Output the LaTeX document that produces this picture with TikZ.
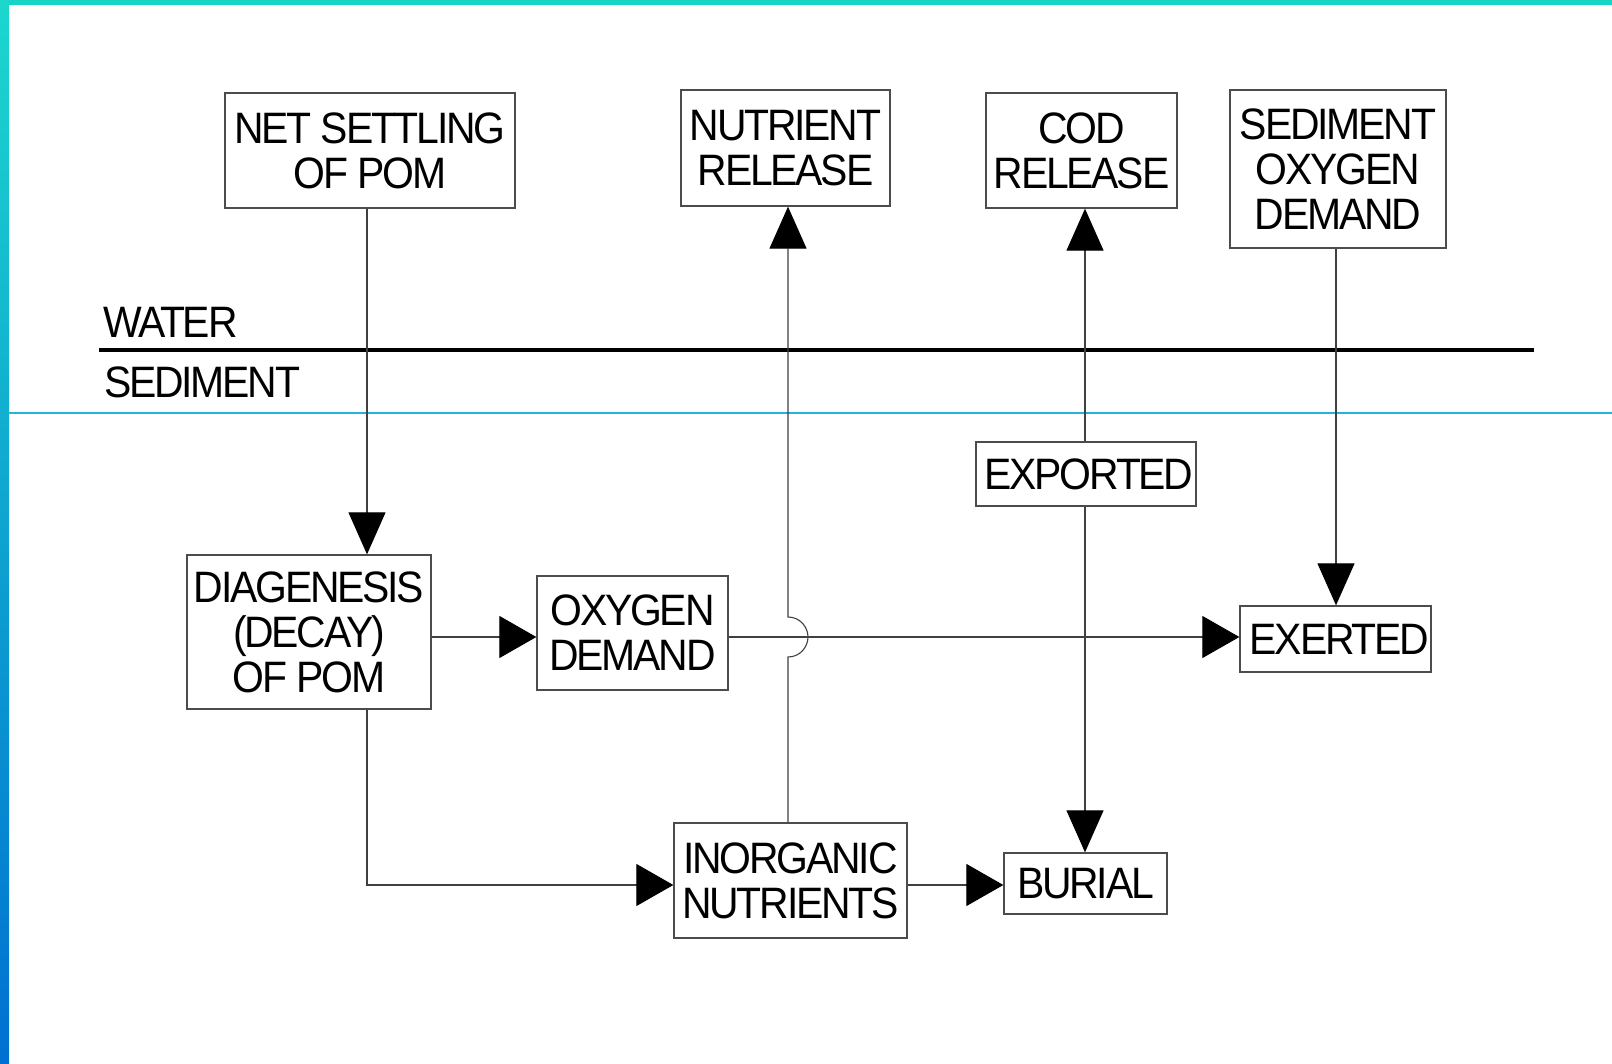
\documentclass[tikz,border=0pt]{standalone}
\usepackage{fontspec}
\setmainfont{Liberation Sans}[FakeStretch=0.93,LetterSpace=-5]
\usetikzlibrary{arrows.meta}
\definecolor{topbar}{HTML}{16D4C6}
\definecolor{barTop}{HTML}{1CD7CE}
\definecolor{barBot}{HTML}{0070D2}
\definecolor{cyanline}{HTML}{22B4DA}
\begin{document}
\begin{tikzpicture}[x=1pt,y=-1pt,
  box/.style={draw=black!70,line width=1.3pt,inner sep=0pt,align=center,
    font=\fontsize{44}{45}\selectfont},
  lbl/.style={inner sep=0pt,anchor=base west,font=\fontsize{44}{45}\selectfont},
  conn/.style={draw=black!75,line width=1.1pt},
  varr/.style={-{Triangle[length=42pt,width=37pt,color=black]}},
  harr/.style={-{Triangle[length=37pt,width=42pt,color=black]}}]
\useasboundingbox (0,0) rectangle (1612,1064);
\fill[white] (0,0) rectangle (1612,1064);
% frame
\fill[topbar] (0,0) rectangle (1612,5);
\shade[top color=barTop,bottom color=barBot] (0,0) rectangle (9,1064);
\draw[cyanline,line width=1.5pt] (9,413) -- (1612,413);
% water / sediment
\coordinate (wl) at (99,350);
\coordinate (wr) at (1534,350);
\draw[line width=4.5pt] (wl) -- (wr);
\node[lbl] (water) at (103,338) {WATER};
\node[lbl] (sediment) at (104,398) {SEDIMENT};
% boxes
\node[box,minimum width=290pt,minimum height=115pt] (net) at (370,150.5) {NET SETTLING\\OF POM};
\node[box,minimum width=209pt,minimum height=116pt] (nr) at (785.5,148) {NUTRIENT\\RELEASE};
\node[box,minimum width=191pt,minimum height=115pt] (cod) at (1081.5,150.5) {COD\\RELEASE};
\node[box,minimum width=216pt,minimum height=158pt] (sod) at (1338,169) {SEDIMENT\\OXYGEN\\DEMAND};
\node[box,minimum width=220pt,minimum height=64pt] (exp) at (1086,474) {\hspace*{6pt}EXPORTED};
\node[box,minimum width=244pt,minimum height=154pt] (dia) at (309,632) {DIAGENESIS\\(DECAY)\\OF POM};
\node[box,minimum width=191pt,minimum height=114pt] (ox) at (632.5,633) {OXYGEN\\DEMAND};
\node[box,minimum width=191pt,minimum height=66pt] (ex) at (1335.5,639) {\hspace*{8pt}EXERTED};
\node[box,minimum width=233pt,minimum height=115pt] (inorg) at (790.5,880.5) {INORGANIC\\NUTRIENTS};
\node[box,minimum width=163pt,minimum height=61pt] (burial) at (1085.5,883.5) {BURIAL};
% guide coordinates
\coordinate (xa) at (367,0);
\coordinate (xb) at (788,0);
\coordinate (xc) at (1085,0);
\coordinate (xd) at (1336,0);
\coordinate (ya) at (0,637);
\coordinate (yb) at (0,885);
% connectors
\draw[conn,varr] (net.south -| xa) -- (dia.north -| xa);
\draw[conn,harr] (dia.east |- ya) -- (ox.west |- ya);
\draw[conn,harr] (ox.east |- ya) -- (ex.west |- ya);
\draw[conn,varr] (sod.south -| xd) -- (ex.north -| xd);
\draw[conn,varr] (exp.north -| xc) -- (cod.south -| xc);
\draw[conn,varr] (exp.south -| xc) -- (burial.north -| xc);
\draw[conn,harr] (dia.south -| xa) -- (xa |- yb) -- (inorg.west |- yb);
\draw[conn,harr] (inorg.east |- yb) -- (burial.west |- yb);
\draw[conn,varr] (inorg.north -| xb) -- (788,657)
  .. controls (800,657) and (808,647) .. (808,637)
  .. controls (808,627) and (800,617) .. (788,617) -- (nr.south -| xb);
\end{tikzpicture}
\end{document}
